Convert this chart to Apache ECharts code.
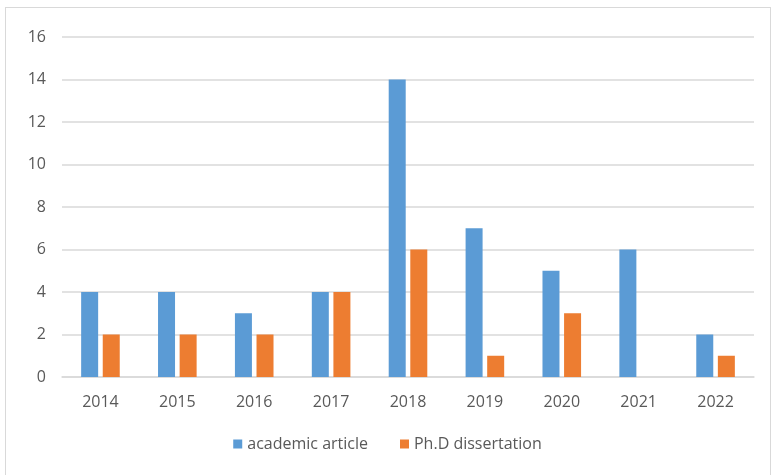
<!DOCTYPE html>
<html><head><meta charset="utf-8">
<script src="https://cdn.jsdelivr.net/npm/echarts@6/dist/echarts.min.js"></script>
<style>html,body{margin:0;padding:0;background:#fff}
#frame{position:absolute;left:5px;top:7px;width:766px;height:475px;border:1px solid #d9d9d9;box-sizing:border-box}
#c{position:absolute;left:0;top:0;width:775px;height:475px}</style>
</head><body><div id="frame"></div><div id="c"></div>
<script>
const categories = ['2014','2015','2016','2017','2018','2019','2020','2021','2022'];
const academicArticle = [4,4,3,4,14,7,5,6,2];
const phdDissertation = [2,2,2,4,6,1,3,0,1];
const yTicks = {min:0,max:16,interval:2};
const chart = echarts.init(document.getElementById('c'));
chart.setOption({
  animation:false,
  grid:{left:62,right:21,top:37,bottom:98},
  legend:{top:431,left:'center',itemWidth:9,itemHeight:9,itemGap:32,icon:'rect',
    textStyle:{fontFamily:'Open Sans',fontSize:16,color:'#595959'},
    data:['academic article','Ph.D dissertation']},
  xAxis:{type:'category',data:categories,
    axisLine:{lineStyle:{color:'#d9d9d9',width:1.5}},axisTick:{show:false},
    axisLabel:{fontFamily:'Open Sans',fontSize:16,color:'#595959',margin:17}},
  yAxis:{type:'value',min:yTicks.min,max:yTicks.max,interval:yTicks.interval,
    axisLine:{show:false},axisTick:{show:false},
    splitLine:{lineStyle:{color:'#d9d9d9',width:1.5}},
    axisLabel:{fontFamily:'Open Sans',fontSize:16,color:'#595959',margin:16}},
  series:[
    {name:'academic article',type:'bar',data:academicArticle,itemStyle:{color:'#5B9BD5'},barWidth:17,barGap:'27%'},
    {name:'Ph.D dissertation',type:'bar',data:phdDissertation,itemStyle:{color:'#ED7D31'},barWidth:17}
  ]
});
</script></body></html>
